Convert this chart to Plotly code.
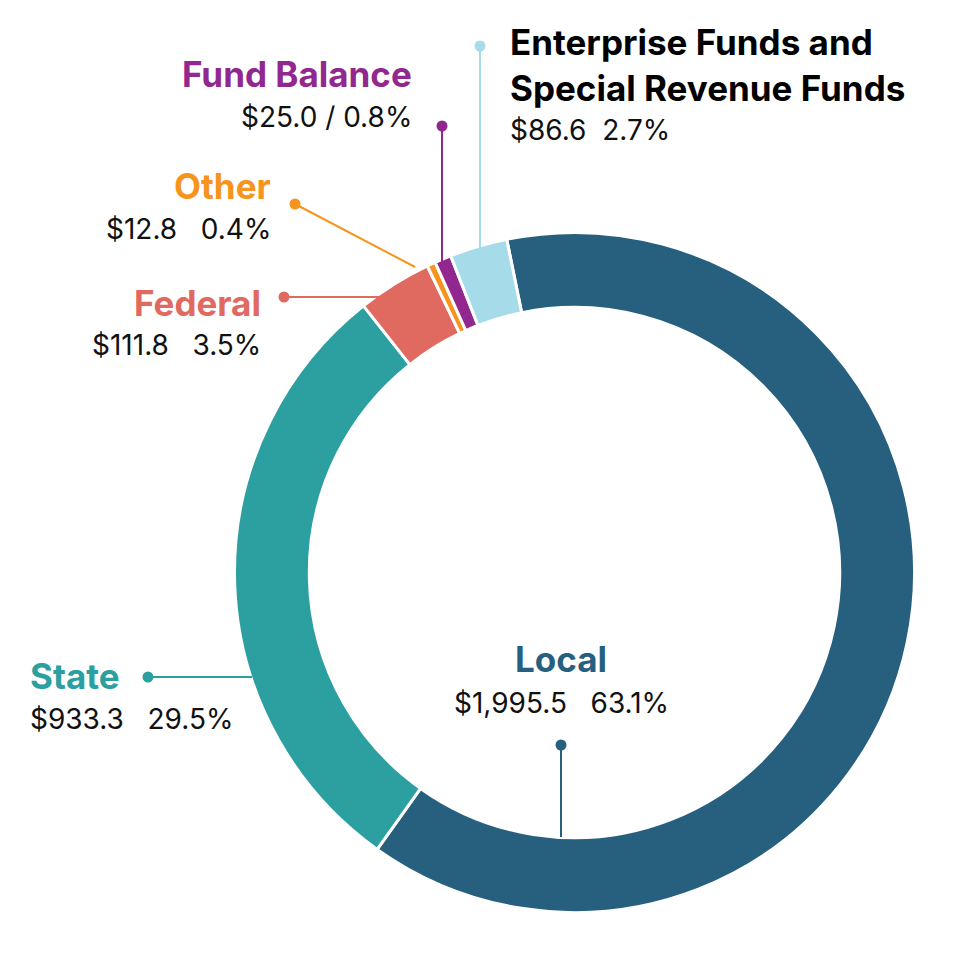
import plotly.graph_objects as go

# ---- data ----
categories = ["Local", "State", "Federal", "Other", "Fund Balance",
              "Enterprise Funds and<br>Special Revenue Funds"]
values = [1995.5, 933.3, 111.8, 12.8, 25.0, 86.6]
value_labels = ["$1,995.5\u00a0\u00a0\u00a063.1%", "$933.3\u00a0\u00a0\u00a029.5%",
                "$111.8\u00a0\u00a0\u00a03.5%", "$12.8\u00a0\u00a0\u00a00.4%",
                "$25.0 / 0.8%", "$86.6\u00a0\u00a02.7%"]

# ---- styles ----
slice_colors = ["#27607f", "#2c9fa0", "#e06a5f", "#f7941d", "#92278f", "#a6dce9"]
title_colors = ["#27607f", "#2c9fa0", "#e06a5f", "#f7941d", "#92278f", "#000000"]
FONT = "Inter, 'Noto Sans', sans-serif"
W = H = 960
PAGE_OFFSET = 8          # default body margin of the html page
cx, cy, R = 574.5, 572.5, 340

# label layout in pixels: (x, anchor, title_center_y, value_center_y)
label_pos = [
    (561, "center", 659, 703),
    (28, "left", 676, 719),
    (263, "right", 303, 345),
    (273, "right", 186, 229),
    (414, "right", 74, 117),
    (508, "left", 65, 130),
]
# leader lines: dot (x, y) -> end (x, y)
leaders = [
    ((561, 745), (561, 837)),
    ((148, 677), (252, 677)),
    ((284, 297), (380, 297)),
    ((295, 204), (415, 267)),
    ((442, 126), (442, 264)),
    ((480, 46), (480, 248)),
]

def px(x):
    return (x - PAGE_OFFSET) / W

def py(y):
    return 1 - (y - PAGE_OFFSET) / H

fig = go.Figure(go.Pie(
    labels=categories,
    values=values,
    hole=0.78,
    sort=False,
    direction="clockwise",
    rotation=-11.5,
    marker=dict(colors=slice_colors, line=dict(color="white", width=3)),
    textinfo="none",
    hoverinfo="label+value+percent",
    showlegend=False,
    domain=dict(x=[px(cx - R), px(cx + R)], y=[py(cy + R), py(cy - R)]),
))

annotations = []
shapes = []
for i, cat in enumerate(categories):
    x, anchor, ty, vy = label_pos[i]
    annotations.append(dict(
        x=px(x), y=py(ty), xref="paper", yref="paper",
        text="<b>%s</b>" % cat, showarrow=False,
        xanchor=anchor, yanchor="middle", align=anchor,
        font=dict(family=FONT, size=35, color=title_colors[i]),
    ))
    annotations.append(dict(
        x=px(x), y=py(vy), xref="paper", yref="paper",
        text=value_labels[i], showarrow=False,
        xanchor=anchor, yanchor="middle", align=anchor,
        font=dict(family=FONT, size=28, color="#111111"),
    ))
    (dx, dy), (ex, ey) = leaders[i]
    shapes.append(dict(type="line", xref="paper", yref="paper",
                       x0=px(dx), y0=py(dy), x1=px(ex), y1=py(ey),
                       line=dict(color=slice_colors[i], width=2)))
    shapes.append(dict(type="circle", xref="paper", yref="paper",
                       xsizemode="pixel", ysizemode="pixel",
                       xanchor=px(dx), yanchor=py(dy),
                       x0=-5.5, x1=5.5, y0=-5.5, y1=5.5,
                       fillcolor=slice_colors[i], line=dict(width=0)))

fig.update_layout(
    width=W, height=H,
    margin=dict(l=0, r=0, t=0, b=0),
    paper_bgcolor="white", plot_bgcolor="white",
    annotations=annotations, shapes=shapes,
)

fig.write_html("out.html")
